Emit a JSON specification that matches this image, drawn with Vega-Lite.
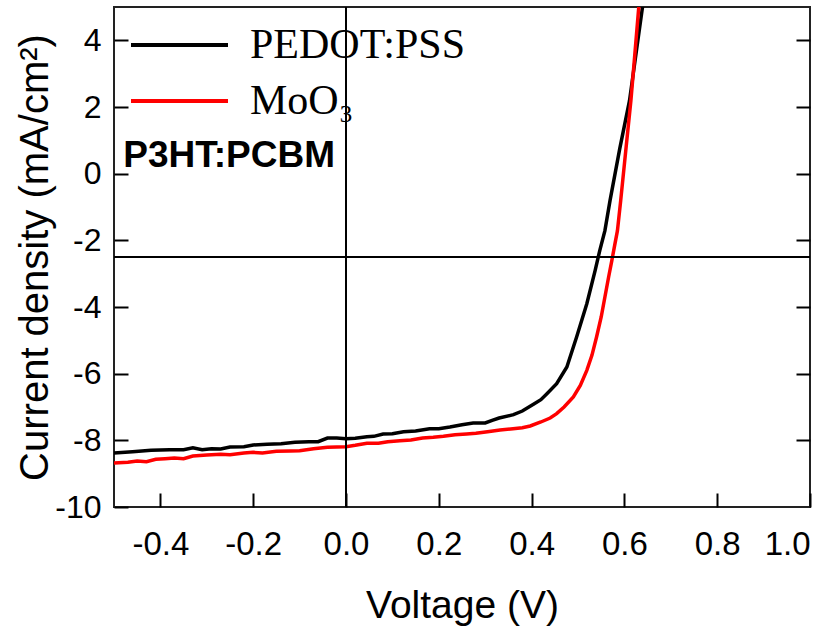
{
  "$schema": "https://vega.github.io/schema/vega-lite/v6.json",
  "width": 696,
  "height": 500,
  "autosize": "none",
  "padding": {"left": 114, "top": 7, "right": 28, "bottom": 119},
  "background": "white",
  "config": {
    "view": {"stroke": "#222222", "strokeWidth": 2},
    "font": "Liberation Sans",
    "axis": {"grid": false, "labelColor": "black", "titleColor": "black", "tickColor": "black", "tickWidth": 2, "domain": false, "labelFont": "Liberation Sans", "titleFont": "Liberation Sans", "titleFontWeight": "normal"}
  },
  "datasets": {
    "curves": [
      {"device": "PEDOT:PSS", "v": -0.5, "j": -8.38},
      {"device": "PEDOT:PSS", "v": -0.46, "j": -8.34},
      {"device": "PEDOT:PSS", "v": -0.42, "j": -8.3},
      {"device": "PEDOT:PSS", "v": -0.38, "j": -8.28},
      {"device": "PEDOT:PSS", "v": -0.35, "j": -8.28},
      {"device": "PEDOT:PSS", "v": -0.33, "j": -8.22},
      {"device": "PEDOT:PSS", "v": -0.31, "j": -8.28},
      {"device": "PEDOT:PSS", "v": -0.29, "j": -8.25},
      {"device": "PEDOT:PSS", "v": -0.27, "j": -8.26},
      {"device": "PEDOT:PSS", "v": -0.25, "j": -8.2},
      {"device": "PEDOT:PSS", "v": -0.22, "j": -8.19},
      {"device": "PEDOT:PSS", "v": -0.2, "j": -8.14},
      {"device": "PEDOT:PSS", "v": -0.17, "j": -8.12},
      {"device": "PEDOT:PSS", "v": -0.14, "j": -8.1},
      {"device": "PEDOT:PSS", "v": -0.11, "j": -8.06},
      {"device": "PEDOT:PSS", "v": -0.08, "j": -8.04},
      {"device": "PEDOT:PSS", "v": -0.06, "j": -8.04},
      {"device": "PEDOT:PSS", "v": -0.04, "j": -7.93},
      {"device": "PEDOT:PSS", "v": -0.02, "j": -7.93},
      {"device": "PEDOT:PSS", "v": 0.0, "j": -7.95},
      {"device": "PEDOT:PSS", "v": 0.02, "j": -7.94},
      {"device": "PEDOT:PSS", "v": 0.045, "j": -7.89},
      {"device": "PEDOT:PSS", "v": 0.06, "j": -7.88},
      {"device": "PEDOT:PSS", "v": 0.08, "j": -7.81},
      {"device": "PEDOT:PSS", "v": 0.1, "j": -7.8},
      {"device": "PEDOT:PSS", "v": 0.124, "j": -7.74},
      {"device": "PEDOT:PSS", "v": 0.15, "j": -7.72},
      {"device": "PEDOT:PSS", "v": 0.18, "j": -7.65},
      {"device": "PEDOT:PSS", "v": 0.2, "j": -7.65},
      {"device": "PEDOT:PSS", "v": 0.224, "j": -7.6},
      {"device": "PEDOT:PSS", "v": 0.25, "j": -7.53},
      {"device": "PEDOT:PSS", "v": 0.274, "j": -7.48},
      {"device": "PEDOT:PSS", "v": 0.3, "j": -7.48},
      {"device": "PEDOT:PSS", "v": 0.315, "j": -7.4},
      {"device": "PEDOT:PSS", "v": 0.33, "j": -7.33},
      {"device": "PEDOT:PSS", "v": 0.361, "j": -7.23},
      {"device": "PEDOT:PSS", "v": 0.38, "j": -7.12},
      {"device": "PEDOT:PSS", "v": 0.404, "j": -6.92},
      {"device": "PEDOT:PSS", "v": 0.42, "j": -6.78},
      {"device": "PEDOT:PSS", "v": 0.433, "j": -6.6},
      {"device": "PEDOT:PSS", "v": 0.454, "j": -6.3},
      {"device": "PEDOT:PSS", "v": 0.476, "j": -5.8},
      {"device": "PEDOT:PSS", "v": 0.497, "j": -4.9},
      {"device": "PEDOT:PSS", "v": 0.519, "j": -3.9},
      {"device": "PEDOT:PSS", "v": 0.537, "j": -2.9},
      {"device": "PEDOT:PSS", "v": 0.547, "j": -2.3},
      {"device": "PEDOT:PSS", "v": 0.558, "j": -1.71},
      {"device": "PEDOT:PSS", "v": 0.569, "j": -0.81},
      {"device": "PEDOT:PSS", "v": 0.59, "j": 0.75},
      {"device": "PEDOT:PSS", "v": 0.611, "j": 2.19},
      {"device": "PEDOT:PSS", "v": 0.625, "j": 3.6},
      {"device": "PEDOT:PSS", "v": 0.639, "j": 5.0},
      {"device": "PEDOT:PSS", "v": 0.645, "j": 5.8},
      {"device": "MoO₃", "v": -0.5, "j": -8.68},
      {"device": "MoO₃", "v": -0.47, "j": -8.66},
      {"device": "MoO₃", "v": -0.45, "j": -8.62},
      {"device": "MoO₃", "v": -0.43, "j": -8.64},
      {"device": "MoO₃", "v": -0.41, "j": -8.57},
      {"device": "MoO₃", "v": -0.39, "j": -8.55},
      {"device": "MoO₃", "v": -0.37, "j": -8.53},
      {"device": "MoO₃", "v": -0.35, "j": -8.55},
      {"device": "MoO₃", "v": -0.33, "j": -8.47},
      {"device": "MoO₃", "v": -0.3, "j": -8.44},
      {"device": "MoO₃", "v": -0.27, "j": -8.42},
      {"device": "MoO₃", "v": -0.25, "j": -8.43},
      {"device": "MoO₃", "v": -0.22, "j": -8.38},
      {"device": "MoO₃", "v": -0.2, "j": -8.36},
      {"device": "MoO₃", "v": -0.18, "j": -8.38},
      {"device": "MoO₃", "v": -0.15, "j": -8.33},
      {"device": "MoO₃", "v": -0.12, "j": -8.32},
      {"device": "MoO₃", "v": -0.1, "j": -8.31},
      {"device": "MoO₃", "v": -0.07, "j": -8.25},
      {"device": "MoO₃", "v": -0.04, "j": -8.21},
      {"device": "MoO₃", "v": -0.02, "j": -8.2},
      {"device": "MoO₃", "v": 0.0, "j": -8.19},
      {"device": "MoO₃", "v": 0.02, "j": -8.15},
      {"device": "MoO₃", "v": 0.045, "j": -8.09},
      {"device": "MoO₃", "v": 0.07, "j": -8.09},
      {"device": "MoO₃", "v": 0.09, "j": -8.04},
      {"device": "MoO₃", "v": 0.116, "j": -8.01},
      {"device": "MoO₃", "v": 0.14, "j": -7.99},
      {"device": "MoO₃", "v": 0.165, "j": -7.93},
      {"device": "MoO₃", "v": 0.188, "j": -7.91},
      {"device": "MoO₃", "v": 0.21, "j": -7.88},
      {"device": "MoO₃", "v": 0.235, "j": -7.83},
      {"device": "MoO₃", "v": 0.26, "j": -7.81},
      {"device": "MoO₃", "v": 0.28, "j": -7.79},
      {"device": "MoO₃", "v": 0.305, "j": -7.74},
      {"device": "MoO₃", "v": 0.332, "j": -7.69},
      {"device": "MoO₃", "v": 0.36, "j": -7.65},
      {"device": "MoO₃", "v": 0.38, "j": -7.62},
      {"device": "MoO₃", "v": 0.397, "j": -7.57},
      {"device": "MoO₃", "v": 0.42, "j": -7.45},
      {"device": "MoO₃", "v": 0.44, "j": -7.33},
      {"device": "MoO₃", "v": 0.454, "j": -7.2},
      {"device": "MoO₃", "v": 0.47, "j": -7.0},
      {"device": "MoO₃", "v": 0.49, "j": -6.7},
      {"device": "MoO₃", "v": 0.505, "j": -6.35},
      {"device": "MoO₃", "v": 0.519, "j": -5.9},
      {"device": "MoO₃", "v": 0.53, "j": -5.45},
      {"device": "MoO₃", "v": 0.54, "j": -4.9},
      {"device": "MoO₃", "v": 0.55, "j": -4.3},
      {"device": "MoO₃", "v": 0.558, "j": -3.7},
      {"device": "MoO₃", "v": 0.566, "j": -3.1},
      {"device": "MoO₃", "v": 0.573, "j": -2.6},
      {"device": "MoO₃", "v": 0.579, "j": -2.15},
      {"device": "MoO₃", "v": 0.585, "j": -1.71},
      {"device": "MoO₃", "v": 0.592, "j": -0.81},
      {"device": "MoO₃", "v": 0.603, "j": 0.7},
      {"device": "MoO₃", "v": 0.614, "j": 2.19},
      {"device": "MoO₃", "v": 0.622, "j": 3.5},
      {"device": "MoO₃", "v": 0.631, "j": 5.0},
      {"device": "MoO₃", "v": 0.636, "j": 5.8}
    ],
    "hline": [{"j": -2.5}],
    "vline": [{"v": 0}],
    "labels": [{"v": -0.48, "j": 0.19, "label": "P3HT:PCBM"}]
  },
  "layer": [
    {
      "data": {"name": "curves"},
      "mark": {"type": "line", "strokeWidth": 3.5, "clip": true},
      "encoding": {
        "x": {
          "field": "v", "type": "quantitative",
          "scale": {"domain": [-0.5, 1.0], "nice": false, "zero": false},
          "axis": {
            "orient": "bottom", "values": [-0.4, -0.2, 0, 0.2, 0.4, 0.6, 0.8, 1.0],
            "labelExpr": "replace(format(datum.value, '.1f'), '\u2212', '-')",
            "tickSize": -14, "labelFontSize": 33, "labelPadding": 35,
            "title": "Voltage (V)", "titleFontSize": 39, "titlePadding": 25
          }
        },
        "y": {
          "field": "j", "type": "quantitative",
          "scale": {"domain": [-10, 5], "nice": false, "zero": false},
          "axis": {
            "orient": "left", "values": [-10, -8, -6, -4, -2, 0, 2, 4],
            "labelExpr": "replace(format(datum.value, 'd'), '\u2212', '-')",
            "tickSize": -14, "labelFontSize": 32, "labelPadding": 27,
            "title": "Current density (mA/cm²)", "titleFontSize": 40, "titleX": -67, "titleBaseline": "alphabetic"
          }
        },
        "color": {
          "field": "device", "type": "nominal",
          "scale": {"domain": ["PEDOT:PSS", "MoO₃"], "range": ["#000000", "#ff0000"]},
          "legend": {
            "orient": "none", "legendX": 15, "legendY": 10, "title": null,
            "symbolType": "stroke", "symbolSize": 9409, "symbolStrokeWidth": 4,
            "labelFont": "Liberation Serif", "labelFontSize": 42, "labelColor": "black", "labelLimit": 0,
            "labelOffset": 20, "padding": 0, "rowPadding": 0, "clipHeight": 56
          }
        }
      }
    },
    {
      "data": {"name": "hline"},
      "mark": {"type": "rule", "strokeWidth": 2, "color": "black"},
      "encoding": {
        "y": {
          "field": "j", "type": "quantitative",
          "axis": {
            "orient": "right", "values": [-8, -6, -4, -2, 0, 2, 4], "labels": false,
            "tickSize": -14, "title": null
          }
        }
      }
    },
    {
      "data": {"name": "vline"},
      "mark": {"type": "rule", "strokeWidth": 2, "color": "black"},
      "encoding": {
        "x": {"field": "v", "type": "quantitative"}
      }
    },
    {
      "data": {"name": "labels"},
      "mark": {"type": "text", "align": "left", "baseline": "alphabetic", "font": "Liberation Sans", "fontWeight": "bold", "fontSize": 37, "color": "black"},
      "encoding": {
        "x": {"field": "v", "type": "quantitative"},
        "y": {"field": "j", "type": "quantitative", "axis": null},
        "text": {"field": "label"}
      }
    }
  ],
  "resolve": {"axis": {"y": "independent"}}
}
